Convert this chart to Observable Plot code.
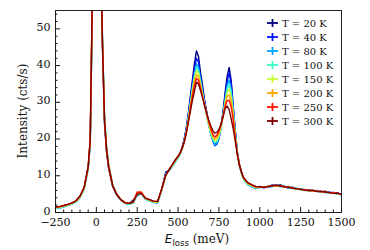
<!DOCTYPE html>
<html><head><meta charset="utf-8">
<script src="https://cdn.jsdelivr.net/npm/d3@7"></script>
<script src="https://cdn.jsdelivr.net/npm/@observablehq/plot@0.6"></script>
<style>
body{margin:0;background:#fff;}
#wrap{position:relative;width:370px;height:250px;font-family:"DejaVu Serif",serif;}
#legend{position:absolute;left:266px;top:16px;font-size:10px;color:#111;}
#legend .row{display:flex;align-items:center;height:14.07px;white-space:nowrap;}
#legend svg{margin-right:3px;}
</style></head><body><div id="wrap"><div id="legend"></div></div>
<script>
const energy = [-250,-225,-200,-175,-150,-125,-100,-75,-50,
  -37.5,-25,-12.5,0,12.5,25,37.5,50,62.5,75,
  100,125,150,175,200,225,250,275,300,325,350,375,400,425,450,475,
  487.5,500,512.5,525,537.5,550,562.5,575,587.5,600,612.5,625,637.5,650,662.5,675,687.5,700,712.5,725,737.5,750,762.5,775,787.5,800,812.5,825,837.5,850,862.5,875,887.5,900,
  925,950,975,1000,1025,1050,1075,1100,1125,1150,1175,1200,1225,1250,1275,1300,1325,1350,1375,1400,1425,1450,1475,1500];

const temperatures = ["T = 20 K","T = 40 K","T = 80 K","T = 100 K","T = 150 K","T = 200 K","T = 250 K","T = 300 K"];
const colors = ["#00007f","#0012ff","#00a4ff","#36ffc8","#c8ff36","#ffa400","#ff1200","#800000"];

const i20K = [1.4,1.5,1.8,2.1,2.5,3.0,4.3,6.6,12.2,
  19,56,122,158,128,70,45,24,16.5,12,
  7.0,4.7,3.4,2.6,2.4,3.4,4.6,5.2,3.8,3.4,3.0,2.9,6.2,11.0,11.6,13.6,
  14.5,15.0,16.3,17.8,20.0,23.0,27,31.5,36,40.5,44,42.5,38,34.5,30.5,27.5,24.5,22,20,18.8,19.2,20.5,23.5,27.5,32.5,37,39.5,36,29,22.5,16.5,13.2,11.2,9.4,
  8.0,7.4,6.6,6.9,7.0,6.8,7.5,7.2,7.6,7.0,6.8,6.8,6.3,6.5,6.0,6.2,5.8,6.0,5.5,5.8,5.2,5.5,5.0,5.1];
const i40K = [1.3,1.5,1.7,2.1,2.4,3.0,4.2,6.5,12.0,
  19,55,120,156,127,71,46,25,17,12.6,
  7.2,4.8,3.4,2.5,2.3,2.7,4.9,5.4,3.7,3.3,2.8,2.8,6.3,10.8,11.8,13.5,
  14.3,15.0,16.0,17.6,19.7,22.6,26.5,30.8,35,38.8,42,41,37,33.5,30,27,24,21.5,19.5,18.2,18.6,20,23,27,31.5,35.5,38,35,28.5,22,16.3,13,11,9.3,
  7.8,7.2,6.8,7.1,6.7,7.0,7.3,7.5,7.3,7.1,6.6,6.9,6.4,6.3,6.2,5.9,6.1,5.7,5.8,5.4,5.6,5.2,5.4,4.8];
const i80K = [1.1,1.2,1.5,1.9,2.3,2.8,4.0,6.3,11.8,
  18.5,54,118,155,128,73,48,26.5,18,13.2,
  7.6,5.0,3.4,2.5,2.2,2.6,4.8,5.2,3.6,3.1,2.7,2.6,6.0,10.5,11.6,13.2,
  14.0,14.8,15.8,17.2,19.3,22.2,26,30,34,37.5,40.5,39.5,36,32.8,29.6,26.6,23.8,21.4,19.6,18.4,18.8,20.2,23,26.6,30.6,34.5,36,33.5,27.6,21.5,16,12.6,10.6,9.0,
  7.6,7.0,6.5,6.8,7.0,6.9,7.0,7.6,7.0,7.2,6.7,6.5,6.6,6.1,6.3,5.8,5.9,5.8,5.5,5.5,5.2,5.4,5.0,4.9];
const i100K = [1.2,1.3,1.6,2.0,2.4,2.9,4.1,6.4,12.0,
  19,55,120,156,129,73,47,26,17.6,13,
  7.5,4.9,3.4,2.6,2.3,2.6,4.9,5.3,3.7,3.2,2.8,2.7,6.1,10.3,11.8,13.3,
  14.2,14.9,15.9,17.3,19.4,22.0,25.6,29.6,33.5,37,39.5,38.8,35.5,32.5,29.4,26.5,23.8,21.6,20,19,19.3,20.6,23,26.4,30.2,33.6,35,32.6,27.4,21.3,16,12.8,10.7,9.1,
  7.7,7.1,6.7,6.9,6.8,7.2,7.1,7.3,7.4,6.9,6.8,6.6,6.4,6.4,6.0,6.1,5.8,5.9,5.6,5.6,5.3,5.2,5.1,5.0];
const i150K = [1.3,1.4,1.7,2.0,2.5,3.0,4.2,6.5,12.2,
  19.5,56,121,157,129,72,46.5,25.5,17.3,12.8,
  7.4,4.9,3.5,2.6,2.4,2.8,5.0,5.4,3.8,3.3,2.9,2.8,6.2,10.2,11.9,13.5,
  14.4,15.1,16.0,17.3,19.3,21.9,25.4,29.2,33,36.5,38.5,38,35,32.2,29.3,26.6,24,21.9,20.4,19.5,19.8,21,23.2,26.2,29.7,32.6,33.6,31.5,26.8,21,15.9,12.9,10.8,9.2,
  7.9,7.3,6.8,6.8,7.0,7.0,7.4,7.1,7.3,7.0,6.9,6.5,6.5,6.2,6.2,5.9,6.0,5.7,5.7,5.5,5.4,5.3,5.1,5.0];
const i200K = [1.4,1.5,1.8,2.1,2.5,3.1,4.3,6.6,12.3,
  19.5,57,122,158,129,72,46,25.3,17.2,12.7,
  7.3,4.9,3.5,2.7,2.5,2.9,5.3,5.6,3.9,3.4,3.0,2.9,6.3,10.2,12,13.6,
  14.5,15.2,16.1,17.4,19.2,21.7,25,28.8,32.4,35.6,37.5,37,34.4,31.8,29.2,26.8,24.4,22.4,20.8,20,20.4,21.6,23.6,26.2,29.2,31.6,32,30.2,26,20.6,15.8,13,10.9,9.4,
  8.0,7.4,6.9,7.0,6.9,7.1,7.2,7.4,7.2,7.0,6.9,6.7,6.5,6.3,6.1,6.0,6.0,5.8,5.7,5.6,5.4,5.3,5.2,5.0];
const i250K = [1.5,1.6,1.9,2.2,2.6,3.2,4.5,6.8,12.5,
  20,58,124,159,130,72,46,25.2,17.1,12.6,
  7.3,4.9,3.5,2.7,2.5,2.9,5.6,5.5,3.9,3.5,3.1,3.0,6.4,10.2,12.0,13.7,
  14.6,15.3,16.2,17.5,19.2,21.6,24.8,28.2,31.6,34.6,36.5,36,33.8,31.5,29.1,26.9,24.8,23,21.3,20.6,21,22.2,23.8,26.2,28.8,30.4,30.6,28.8,25.2,20.2,15.8,13,11,9.5,
  8.1,7.5,7.0,7.0,6.9,7.0,7.3,7.4,7.3,7.0,7.0,6.6,6.5,6.3,6.2,6.0,6.0,5.8,5.7,5.6,5.4,5.3,5.2,5.0];
const i300K = [1.5,1.6,1.9,2.2,2.6,3.2,4.5,6.8,12.5,
  20,58,125,160,130,72,46,25,17,12.5,
  7.3,4.9,3.5,2.7,2.5,2.8,5.0,5.2,3.9,3.5,3.1,3.0,6.5,10.2,12.0,13.8,
  14.6,15.3,16.2,17.5,19.2,21.5,24.5,27.5,30.5,33,35.5,35,33.2,31.2,29,27,25.2,23.6,22.3,21.6,21.8,22.6,24,26,28.2,29,28,25.5,22.8,19.5,15.8,13,11,9.6,
  8.2,7.6,7.1,7.0,6.8,7.1,7.3,7.4,7.2,7.0,6.9,6.6,6.5,6.3,6.1,6.0,6.0,5.8,5.7,5.6,5.4,5.2,5.3,4.9];

const xMajor = [-250,0,250,500,750,1000,1250,1500];
const xMinor = [-200,-150,-100,-50,50,100,150,200,300,350,400,450,550,600,650,700,800,850,900,950,1050,1100,1150,1200,1300,1350,1400,1450];
const yMajor = [0,10,20,30,40,50];
const yMinor = [2,4,6,8,12,14,16,18,22,24,26,28,32,34,36,38,42,44,46,48,52,54];

const series = [i20K,i40K,i80K,i100K,i150K,i200K,i250K,i300K];
const rows = [];
temperatures.forEach((t,k) => series[k].forEach((v,i) => rows.push({E: energy[i], I: v, T: t})));

const fmt = d3.format("d");
const chart = Plot.plot({
  width: 370, height: 250,
  marginLeft: 55, marginRight: 29, marginTop: 10, marginBottom: 38,
  style: {fontFamily: "DejaVu Serif", fontSize: "11px", background: "white", color: "#111"},
  x: {domain: [-250, 1500]},
  y: {domain: [0, 55]},
  color: {domain: temperatures, range: colors},
  marks: [
    Plot.line(rows, {x: "E", y: "I", z: "T", stroke: "T", strokeWidth: 1.4, clip: true}),
    Plot.frame({stroke: "#222", strokeWidth: 1}),
    Plot.axisX({ticks: xMinor, tickSize: -2.5, text: null, label: null}),
    Plot.axisX({ticks: xMajor, tickSize: 0 - 5, text: null, label: null}),
    Plot.axisX({ticks: xMajor, tickSize: 0, tickPadding: 6, tickFormat: fmt, label: null}),
    Plot.axisY({ticks: yMinor, tickSize: -2.5, text: null, label: null}),
    Plot.axisY({ticks: yMajor, tickSize: -5, text: null, label: null}),
    Plot.axisY({ticks: yMajor, tickSize: 0, tickPadding: 5, dy: -1.5, tickFormat: fmt, label: null})
  ]
});
document.getElementById("wrap").prepend(chart);

const svg = d3.select(chart);
const xl = svg.append("text").attr("x", 197).attr("y", 243).attr("text-anchor", "middle")
  .attr("fill", "#111").style("font-size", "12px");
xl.append("tspan").text("E").style("font-family", "DejaVu Sans").style("font-style", "italic");
xl.append("tspan").text("loss").style("font-family", "DejaVu Sans").style("font-size", "8.5px").attr("dy", 2.5);
xl.append("tspan").text(" (meV)").style("font-family", "DejaVu Serif").attr("dy", -2.5);
svg.append("text").attr("transform", "translate(27,111) rotate(-90)").attr("text-anchor", "middle")
  .attr("fill", "#111").style("font-size", "12px").style("font-family", "DejaVu Serif").text("Intensity (cts/s)");

const legend = d3.select("#legend");
temperatures.forEach((t,k) => {
  const row = legend.append("div").attr("class", "row");
  const s = row.append("svg").attr("width", 13).attr("height", 10);
  s.append("line").attr("x1", 1).attr("x2", 12).attr("y1", 5).attr("y2", 5).attr("stroke", colors[k]).attr("stroke-width", 1.8);
  s.append("line").attr("x1", 6.5).attr("x2", 6.5).attr("y1", 1).attr("y2", 9).attr("stroke", colors[k]).attr("stroke-width", 1.8);
  row.append("span").text(t);
});
</script></body></html>
